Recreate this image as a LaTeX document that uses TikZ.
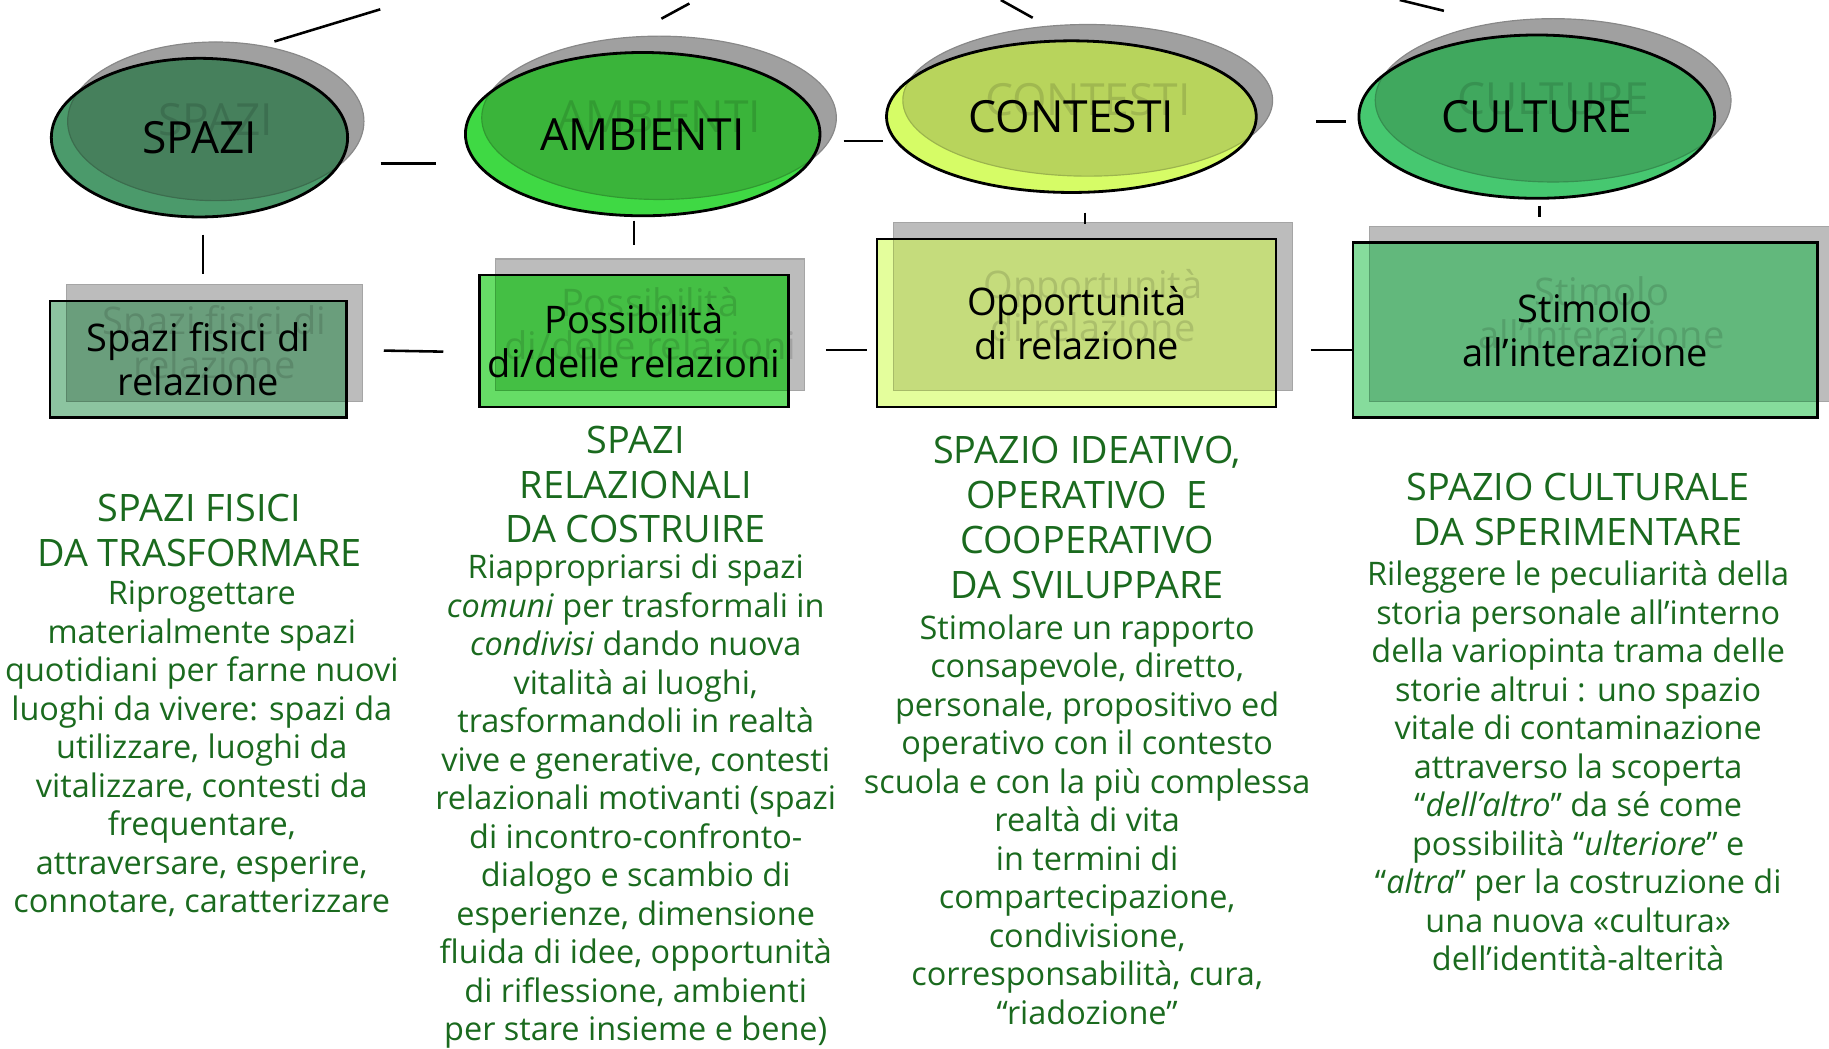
\documentclass[tikz,border=0pt]{standalone}
\usepackage{fontspec}
\setmainfont{Open Sans}
\usetikzlibrary{shapes.geometric, positioning, calc}
\definecolor{gEll}{HTML}{A0A0A0}
\definecolor{gBox}{HTML}{BCBCBC}
\definecolor{spaziA}{HTML}{4B9A6B}
\definecolor{spaziB}{HTML}{46805C}
\definecolor{ambA}{HTML}{3FD944}
\definecolor{ambB}{HTML}{3AB43A}
\definecolor{conA}{HTML}{D6FC66}
\definecolor{conB}{HTML}{B8D45C}
\definecolor{culA}{HTML}{46C870}
\definecolor{culB}{HTML}{40A85E}
\definecolor{fisA}{HTML}{8CC4A0}
\definecolor{fisB}{HTML}{6A9E7C}
\definecolor{posA}{HTML}{66DD66}
\definecolor{posB}{HTML}{44BF44}
\definecolor{oppA}{HTML}{E4FE9C}
\definecolor{oppB}{HTML}{C5DC7C}
\definecolor{stiA}{HTML}{86DC9C}
\definecolor{stiB}{HTML}{62B87C}
\definecolor{tGreen}{HTML}{1A6A1E}
\begin{document}
\begin{tikzpicture}[x=0.5pt, y=0.5pt,
          ell/.style={ellipse, draw=black, line width=1.2pt, inner sep=0pt,
            font=\fontsize{19}{22}\selectfont,
            path picture={\fill[#1, draw=#1!85!black, line width=0.5pt]
              let \p1=(path picture bounding box.south west), \p2=(path picture bounding box.north east) in
              ([shift={(7pt,7pt)}]path picture bounding box.center) ellipse [x radius={(\x2-\x1)/2}, y radius={(\y2-\y1)/2}];}},
          box/.style={rectangle, draw=black, line width=1pt, inner sep=0pt, align=center,
            font=\fontsize{16.3}{18.75}\selectfont,
            path picture={\fill[#1, draw=#1!85!black, line width=0.5pt]
              ([shift={(7pt,7pt)}]path picture bounding box.south west) rectangle
              ([shift={(7pt,7pt)}]path picture bounding box.north east);}},
          ghE/.style={fill=gEll, draw=gEll!85!black, line width=0.5pt},
          ghB/.style={fill=gBox, draw=gBox!88!black, line width=0.5pt},
          ghT/.style={text=black, text opacity=0.13, inner sep=0pt, align=center},
          head/.style={text=tGreen, align=center, inner sep=0pt, font=\fontsize{16.2}{19.2}\selectfont},
          body/.style={text=tGreen, align=center, inner sep=0pt, font=\fontsize{13.9}{16.5}\selectfont},
          link/.style={draw=black, line width=1.1pt}]
        \useasboundingbox (0,0) rectangle (1568,-899);
        % ghosts behind the ellipses
        \fill[ghE] (185,-104) ellipse [x radius=63.5pt, y radius=34pt];
        \fill[ghE] (565,-101) ellipse [x radius=76pt, y radius=35pt];
        \fill[ghE] (932.5,-86) ellipse [x radius=79.25pt, y radius=32.5pt];
        \fill[ghE] (1331.5,-86) ellipse [x radius=76.25pt, y radius=35pt];
        % ghosts behind the boxes
        \fill[ghB] (57,-244) rectangle (311,-344);
        \fill[ghB] (425,-222) rectangle (690,-335);
        \fill[ghB] (766,-191) rectangle (1108,-335);
        \fill[ghB] (1174,-194) rectangle (1572,-344);
        % ellipses
        \node[ell=spaziB, fill=spaziA, minimum width=127pt, minimum height=68pt] (spazi) at (171,-118) {SPAZI};
        \node[ell=ambB, fill=ambA, minimum width=152pt, minimum height=70pt] (ambienti) at (551,-115) {AMBIENTI};
        \node[ell=conB, fill=conA, minimum width=158.5pt, minimum height=65pt] (contesti) at (918.5,-100) {CONTESTI};
        \node[ell=culB, fill=culA, minimum width=152.5pt, minimum height=70pt] (culture) at (1317.5,-100) {CULTURE};
        % boxes
        \node[box=fisB, fill=fisA, minimum width=127pt, minimum height=50pt] (fisici) at (170,-308) {Spazi fisici di\\relazione};
        \node[box=posB, fill=posA, minimum width=132.5pt, minimum height=56.5pt] (possib) at (543.5,-292.5) {Possibilità\\di/delle relazioni};
        \node[box=oppB, fill=oppA, minimum width=171pt, minimum height=72pt] (opport) at (923,-277) {Opportunità\\di relazione};
        \node[box=stiB, fill=stiA, minimum width=199pt, minimum height=75pt] (stimolo) at (1359,-283) {Stimolo\\all’interazione};
        % ghost texts
        \node[ghT, font=\fontsize{19}{22}\selectfont] (spaziG) at (185,-103) {SPAZI};
        \node[ghT, font=\fontsize{19}{22}\selectfont] (ambientiG) at (565,-100) {AMBIENTI};
        \node[ghT, font=\fontsize{19}{22}\selectfont] (contestiG) at (932.5,-85) {CONTESTI};
        \node[ghT, font=\fontsize{19}{22}\selectfont] (cultureG) at (1331.5,-85) {CULTURE};
        \node[ghT, font=\fontsize{16.3}{18.75}\selectfont] (fisiciG) at (184,-293) {Spazi fisici di\\relazione};
        \node[ghT, font=\fontsize{16.3}{18.75}\selectfont] (possibG) at (557.5,-277.5) {Possibilità\\di/delle relazioni};
        \node[ghT, font=\fontsize{16.3}{18.75}\selectfont] (opportG) at (937,-262) {Opportunità\\di relazione};
        \node[ghT, font=\fontsize{16.3}{18.75}\selectfont] (stimoloG) at (1373,-268) {Stimolo\\all’interazione};
        % column texts
        \node[head] (h1) at (171,-455) {SPAZI FISICI\\DA TRASFORMARE};
        \node[body] (t1) at (173,-642) {Riprogettare\\materialmente spazi\\quotidiani per farne nuovi\\luoghi da vivere: spazi da\\utilizzare, luoghi da\\vitalizzare, contesti da\\frequentare,\\attraversare, esperire,\\connotare, caratterizzare};
        \node[head] (h2) at (545,-415.5) {SPAZI\\RELAZIONALI\\DA COSTRUIRE};
        \node[body] (t2) at (545,-687) {Riappropriarsi di spazi\\\textit{comuni} per trasformali in\\\textit{condivisi} dando nuova\\vitalità ai luoghi,\\trasformandoli in realtà\\vive e generative, contesti\\relazionali motivanti (spazi\\di incontro-confronto-\\dialogo e scambio di\\esperienze, dimensione\\fluida di idee, opportunità\\di riflessione, ambienti\\per stare insieme e bene)};
        \node[head] (h3) at (932,-443.5) {SPAZIO IDEATIVO,\\OPERATIVO\ \ E\\COOPERATIVO\\DA SVILUPPARE};
        \node[body] (t3) at (932,-702.5) {Stimolare un rapporto\\consapevole, diretto,\\personale, propositivo ed\\operativo con il contesto\\scuola e con la più complessa\\realtà di vita\\in termini di\\compartecipazione,\\condivisione,\\corresponsabilità, cura,\\“riadozione”};
        \node[head] (h4) at (1353,-436.5) {SPAZIO CULTURALE\\DA SPERIMENTARE};
        \node[body] (t4) at (1353,-656.5) {Rileggere le peculiarità della\\storia personale all’interno\\della variopinta trama delle\\storie altrui : uno spazio\\vitale di contaminazione\\attraverso la scoperta\\“\textit{dell’altro}” da sé come\\possibilità “\textit{ulteriore}” e\\“\textit{altra}” per la costruzione di\\una nuova «cultura»\\dell’identità-alterità};
        % connectors to the parent above
        \coordinate (topA) at (326,-8);
        \coordinate (topB) at (591,-3);
        \coordinate (topC) at (858,0);
        \coordinate (topD) at (1200,0);
        \draw[link, shorten >=24pt] (topA) -- (spazi.75);
        \draw[link, shorten >=31.7pt] (topB) -- (ambienti.120);
        \draw[link, shorten >=19pt] (topC) -- (contesti.north);
        \draw[link, shorten >=41pt] (topD) -- (culture.north);
        % connectors between ellipses
        \draw[link, shorten <=13.5pt, shorten >=12pt] ([yshift=-11pt]spazi.east) -- ([yshift=-12.5pt]ambienti.west);
        \draw[link, shorten <=9.5pt, shorten >=1pt] ([yshift=-3pt]ambienti.east) -- ([yshift=-10.5pt]contesti.west);
        \draw[link, shorten <=25pt, shorten >=5pt] ([yshift=-2pt]contesti.east) -- ([yshift=-2pt]culture.west);
        % connectors ellipse to box
        \draw[link, shorten <=7pt, shorten >=11pt] ([xshift=1.5pt]spazi.south) -- ([xshift=2pt]fisici.north);
        \draw[link, shorten <=1.5pt, shorten >=12.5pt] (ambienti.south -| possib.north) -- (possib.north);
        \draw[link, shorten <=8pt, shorten >=6pt] ([xshift=5.75pt]contesti.south) -- ([xshift=3.5pt]opport.north);
        \draw[link, shorten <=2.5pt, shorten >=10.5pt] ([xshift=1.25pt]culture.south) -- ([xshift=1.25pt]culture.south |- stimolo.north);
        % connectors between boxes
        \draw[link, shorten <=15.5pt, shorten >=15pt] ([yshift=4pt]fisici.east) -- ([yshift=-4.75pt]possib.west);
        \draw[link, shorten <=15.5pt, shorten >=4pt] ([yshift=-3.75pt]possib.east) -- ([yshift=-11.5pt]opport.west);
        \draw[link, shorten <=14.5pt] ([yshift=-11.5pt]opport.east) -- ([yshift=-8.5pt]stimolo.west);
      \end{tikzpicture}
\end{document}
